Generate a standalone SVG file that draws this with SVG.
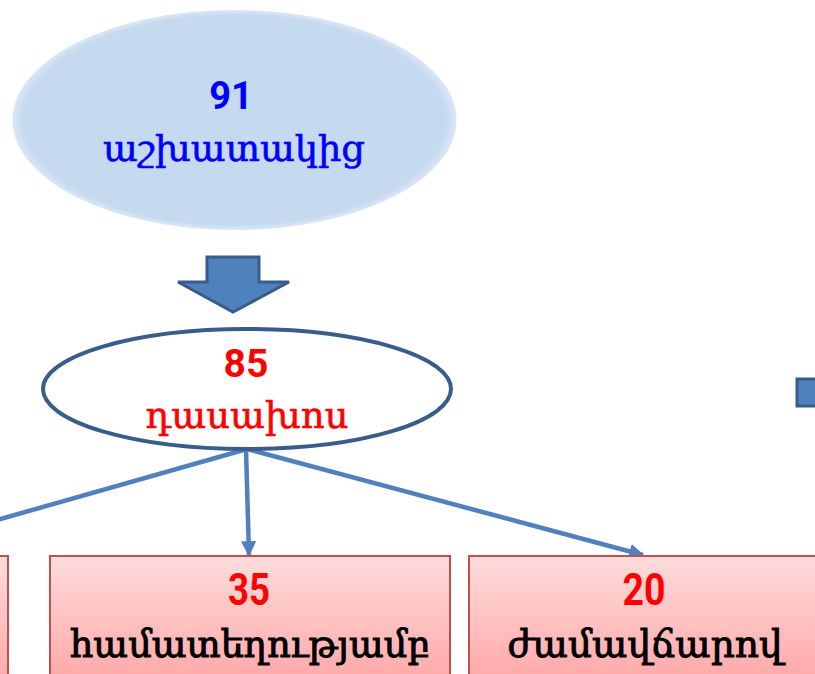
<svg xmlns="http://www.w3.org/2000/svg" width="815" height="674" viewBox="0 0 815 674">
<style>
.num{font-family:Roboto,"Liberation Sans",sans-serif;font-weight:bold;text-anchor:middle}
.arm{font-family:"DejaVu Serif","Noto Serif",serif;text-anchor:middle}
.box{fill:url(#boxg);stroke:#c0504d;stroke-width:2}
.conn{stroke:#4f81bd;stroke-width:4.5;fill:none}
</style>
<defs>
<linearGradient id="boxg" x1="0" y1="0" x2="0" y2="1">
<stop offset="0" stop-color="#ffdcdc"/>
<stop offset="1" stop-color="#ffa6a6"/>
</linearGradient>
<radialGradient id="topg" cx="0.5" cy="0.5" r="0.5">
<stop offset="0.95" stop-color="#c5d9ef"/>
<stop offset="1" stop-color="#dbe7f6"/>
</radialGradient>
<marker id="ah" viewBox="0 0 10 10" refX="9" refY="5" markerWidth="3.4" markerHeight="3.4" orient="auto" markerUnits="strokeWidth">
<path d="M0,0 L10,5 L0,10 z" fill="#4f81bd"/>
</marker>
</defs>
<rect width="815" height="674" fill="#ffffff"/>
<g id="connectors">
<line class="conn" x1="247" y1="449" x2="-10" y2="522"/>
<line class="conn" x1="246" y1="449" x2="249" y2="555" marker-end="url(#ah)"/>
<line class="conn" x1="247" y1="449" x2="643" y2="555" marker-end="url(#ah)"/>
</g>
<g id="staff">
<ellipse cx="234.5" cy="120" rx="222" ry="110" fill="url(#topg)"/>
<text class="num" x="231" y="109" font-size="38" fill="#0000ff">91</text>
<text class="arm" x="234" y="161" font-size="35" fill="#0000ff" stroke="#0000ff" stroke-width="0.6" textLength="262" lengthAdjust="spacingAndGlyphs">աշխատակից</text>
</g>
<g id="down-arrow">
<polygon points="207,257 259,257 259,282 289,282 233,312 178,282 207,282" fill="#4f81bd" stroke="#385d8a" stroke-width="3" stroke-linejoin="miter"/>
</g>
<g id="lecturers">
<ellipse cx="247" cy="389" rx="204" ry="60" fill="#ffffff" stroke="#385d8a" stroke-width="4"/>
<text class="num" x="246" y="377" font-size="39" fill="#ff0000">85</text>
<text class="arm" x="247" y="428" font-size="37" fill="#ff0000" stroke="#ff0000" stroke-width="0.6" textLength="203" lengthAdjust="spacingAndGlyphs">դասախոս</text>
</g>
<g id="box-left">
<rect class="box" x="-20" y="556" width="28" height="130"/>
</g>
<g id="box-parttime">
<rect class="box" x="50" y="556" width="400" height="130"/>
<text class="num" x="249" y="605" font-size="44" fill="#ff0000" textLength="42" lengthAdjust="spacingAndGlyphs">35</text>
<text class="arm" x="250" y="657" font-size="38" fill="#000000" stroke="#000000" stroke-width="1" textLength="360" lengthAdjust="spacingAndGlyphs">համատեղությամբ</text>
</g>
<g id="box-hourly">
<rect class="box" x="469" y="556" width="360" height="130"/>
<text class="num" x="644" y="605" font-size="44" fill="#ff0000" textLength="43" lengthAdjust="spacingAndGlyphs">20</text>
<text class="arm" x="645" y="657" font-size="38" fill="#000000" stroke="#000000" stroke-width="1" textLength="275" lengthAdjust="spacingAndGlyphs">ժամավճարով</text>
</g>
<g id="right-arrow-part">
<rect x="797" y="379" width="22" height="27" fill="#4f81bd" stroke="#385d8a" stroke-width="3"/>
</g>
</svg>
